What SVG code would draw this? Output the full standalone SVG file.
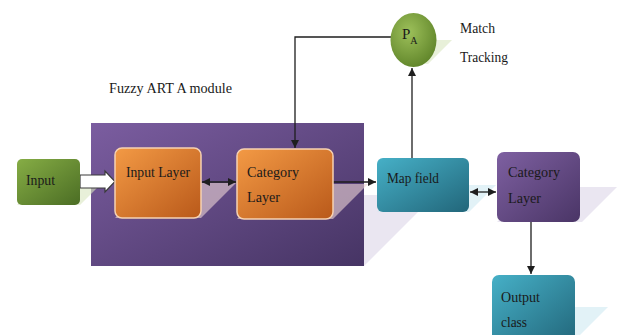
<svg xmlns="http://www.w3.org/2000/svg" width="622" height="335" viewBox="0 0 622 335">
<style>
text{font-family:"Liberation Serif","Times New Roman",serif;font-size:15px;fill:#1a1a1a}
.conn{stroke:#1e1e1e;stroke-width:1.3;fill:none}
.shadow{opacity:0.6}
</style>
<defs>
<linearGradient id="gMod" x1="0" y1="0" x2="1" y2="1"><stop offset="0" stop-color="#7b5da0"/><stop offset="1" stop-color="#463464"/></linearGradient>
<linearGradient id="gOr" x1="0" y1="0" x2="1" y2="1"><stop offset="0" stop-color="#f39a45"/><stop offset="1" stop-color="#b9591a"/></linearGradient>
<linearGradient id="gGr" x1="0" y1="0" x2="1" y2="1"><stop offset="0" stop-color="#86ad45"/><stop offset="1" stop-color="#4b6d24"/></linearGradient>
<linearGradient id="gTe" x1="0" y1="0" x2="1" y2="1"><stop offset="0" stop-color="#46b0c7"/><stop offset="1" stop-color="#22667a"/></linearGradient>
<linearGradient id="gPu" x1="0" y1="0" x2="1" y2="1"><stop offset="0" stop-color="#7e60a1"/><stop offset="1" stop-color="#4a3566"/></linearGradient>
<radialGradient id="gCi" cx="0.4" cy="0.35" r="0.7"><stop offset="0" stop-color="#9dc05a"/><stop offset="1" stop-color="#5f8429"/></radialGradient>
<marker id="ah" viewBox="0 0 10 10" refX="10" refY="5" markerWidth="8" markerHeight="8" markerUnits="userSpaceOnUse" orient="auto-start-reverse"><path d="M0,0 L10,5 L0,10 z" fill="#1e1e1e"/></marker>
</defs>

<!-- module shadow and module -->
<polygon class="shadow" points="91,266 162,195 435,195 364,266" fill="#dcd6e8"/>
<g id="module">
<rect x="91" y="123" width="273" height="143" fill="url(#gMod)"/>
</g>

<!-- shadows -->
<polygon class="shadow" points="17,205 40,182 103,182 80,205" fill="#d8e6c0"/>
<polygon class="shadow" points="115,218 150,183 236,183 201,218" fill="#ecd6d6"/>
<polygon class="shadow" points="237,219 272,184 368,184 333,219" fill="#ecd6d6"/>
<polygon class="shadow" points="377,212 404,185 496,185 469,212" fill="#cfeaf2"/>
<polygon class="shadow" points="497,222 532,187 617,187 582,222" fill="#dcd6e8"/>
<polygon class="shadow" points="492,340 525,307 608,307 575,340" fill="#cfeaf2"/>
<polygon class="shadow" points="402,64 426,40 452,40 428,64" fill="#d8e6c0"/>

<text x="109" y="93" textLength="123" lengthAdjust="spacingAndGlyphs">Fuzzy ART A module</text>

<g id="connectors">
<polyline class="conn" points="391,37 295,37 295,148" marker-end="url(#ah)"/>
<line class="conn" x1="202" y1="182" x2="236" y2="182" marker-start="url(#ah)" marker-end="url(#ah)"/>
<line class="conn" x1="333" y1="182" x2="376" y2="182" marker-end="url(#ah)"/>
<line class="conn" x1="412" y1="158" x2="412" y2="68" marker-end="url(#ah)"/>
<line class="conn" x1="470" y1="192" x2="496" y2="192" marker-start="url(#ah)" marker-end="url(#ah)"/>
<line class="conn" x1="531" y1="222" x2="531" y2="274" marker-end="url(#ah)"/>
<polygon points="80,175 105,175 105,171 115,181.5 105,192 105,188 80,188" fill="#ffffff" stroke="#3a3a3a" stroke-width="1.2"/>
</g>

<g id="input">
<rect x="17" y="159" width="63" height="46" rx="5" fill="url(#gGr)"/>
<text x="26" y="185" textLength="29" lengthAdjust="spacingAndGlyphs">Input</text>
</g>
<g id="input-layer">
<rect x="115" y="148" width="86" height="70" rx="7" fill="url(#gOr)" stroke="#f6d2b2" stroke-width="1.5"/>
<text x="126" y="177" textLength="64" lengthAdjust="spacingAndGlyphs">Input Layer</text>
</g>
<g id="category-layer-a">
<rect x="237" y="149" width="96" height="70" rx="7" fill="url(#gOr)" stroke="#f6d2b2" stroke-width="1.5"/>
<text x="247" y="177" textLength="52" lengthAdjust="spacingAndGlyphs">Category</text>
<text x="247" y="202" textLength="33" lengthAdjust="spacingAndGlyphs">Layer</text>
</g>
<g id="map-field">
<rect x="377" y="158" width="92" height="54" rx="6" fill="url(#gTe)"/>
<text x="387" y="183" textLength="52" lengthAdjust="spacingAndGlyphs">Map field</text>
</g>
<g id="pa">
<ellipse cx="413.5" cy="40" rx="23" ry="27" fill="url(#gCi)"/>
<text x="402" y="39">P<tspan font-size="10" dy="5">A</tspan></text>
</g>
<text x="460" y="33" textLength="35" lengthAdjust="spacingAndGlyphs">Match</text>
<text x="460" y="62" textLength="48" lengthAdjust="spacingAndGlyphs">Tracking</text>
<g id="category-layer-b">
<rect x="497" y="152" width="83" height="70" rx="7" fill="url(#gPu)"/>
<text x="508" y="177" textLength="52" lengthAdjust="spacingAndGlyphs">Category</text>
<text x="508" y="203" textLength="33" lengthAdjust="spacingAndGlyphs">Layer</text>
</g>
<g id="output-class">
<rect x="492" y="275" width="83" height="70" rx="7" fill="url(#gTe)"/>
<text x="501" y="302" textLength="39" lengthAdjust="spacingAndGlyphs">Output</text>
<text x="501" y="327" textLength="26" lengthAdjust="spacingAndGlyphs">class</text>
</g>
</svg>
